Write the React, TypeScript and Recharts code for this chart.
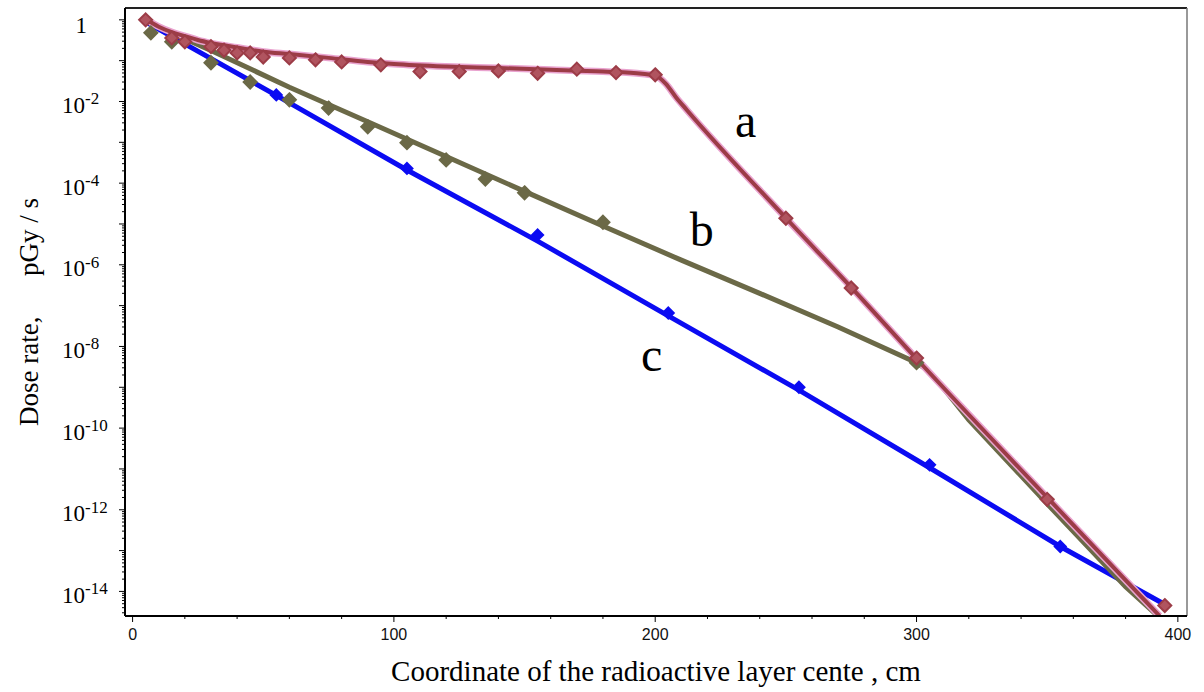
import { ComposedChart, Line, Scatter, XAxis, YAxis, ReferenceLine, ReferenceDot, Label } from 'recharts'

// fitted curves (x in cm, dose rate in pGy/s)
const lineAx = [5, 10, 15, 20, 25, 30, 40, 50, 60, 75, 90, 100, 120, 140, 160, 180, 195, 200, 204, 208, 212, 250, 275, 300, 350, 393]
const lineAy = [1.05, 0.68, 0.5, 0.4, 0.32, 0.27, 0.21, 0.166, 0.145, 0.117, 0.093, 0.083, 0.072, 0.066, 0.06, 0.054, 0.048, 0.043, 0.0275, 0.0126, 6.3e-3, 1.4e-5, 2.8e-7, 5.0e-9, 2.0e-12, 2.5e-15]

const lineBx = [5, 30, 60, 90, 120, 150, 180, 210, 240, 270, 300, 304, 308, 320, 350, 380, 393]
const lineBy = [0.93, 0.178, 0.0224, 3.2e-3, 4.5e-4, 6.3e-5, 8.9e-6, 1.3e-6, 2.0e-7, 3.0e-8, 4.0e-9, 2.7e-9, 1.45e-9, 1.6e-10, 1.4e-12, 1.3e-14, 2.3e-15]

const lineCx = [5, 55, 105, 155, 205, 255, 305, 355, 394]
const lineCy = [0.89, 0.0141, 2.1e-4, 3.8e-6, 5.6e-8, 8.5e-10, 1.07e-11, 1.26e-13, 5.2e-15]

// measured points
const ptsAx = [5, 15, 20, 30, 35, 40, 45, 50, 60, 70, 80, 95, 110, 125, 140, 155, 170, 185, 200, 250, 275, 300, 350, 395]
const ptsAy = [1.0, 0.36, 0.29, 0.22, 0.18, 0.155, 0.155, 0.123, 0.117, 0.105, 0.093, 0.079, 0.054, 0.054, 0.056, 0.049, 0.062, 0.051, 0.045, 1.38e-5, 2.7e-7, 5.2e-9, 1.8e-12, 4.5e-15]

const ptsBx = [7, 15, 30, 45, 60, 75, 90, 105, 120, 135, 150, 180, 300]
const ptsBy = [0.48, 0.29, 0.089, 0.03, 0.011, 6.9e-3, 2.4e-3, 9.8e-4, 3.7e-4, 1.26e-4, 5.8e-5, 1.1e-5, 4.0e-9]

const ptsCx = [55, 105, 155, 205, 255, 305, 355]
const ptsCy = [0.0145, 2.3e-4, 5.4e-6, 6.6e-8, 1.0e-9, 1.26e-11, 1.26e-13]

const curveNames = ['a', 'b', 'c']
const curveLabelX = [234.6, 217.8, 198.6]
const curveLabelY = [3.5e-3, 7.6e-6, 6.5e-9]

const xTicks = [0, 20, 40, 60, 80, 100, 120, 140, 160, 180, 200, 220, 240, 260, 280, 300, 320, 340, 360, 380, 400]
const yLabelExps = [0, -2, -4, -6, -8, -10, -12, -14]

const xDomain = [-2.9, 403.5]
const yDomain = [2.5e-15, 1.95]

const zip = (xs: number[], ys: number[]) => xs.map((x, i) => ({ x, y: ys[i] }))

// every 1..9 x 10^e inside the domain, for the minor log ticks
const yTicks: number[] = []
for (let e = -15; e <= 0; e++) {
  for (let m = 1; m <= 9; m++) {
    const v = m * Math.pow(10, e)
    if (v >= yDomain[0] && v <= yDomain[1]) yTicks.push(v)
  }
}

const RED = '#9C3C47'
const OLIVE = '#6B6947'
const BLUE = '#0B0BF2'

const diamond = (fill: string, stroke: string, r: number) => (props: any) => {
  const { cx, cy } = props
  if (cx == null || cy == null) return <g />
  return (
    <path
      d={`M${cx},${cy - r} L${cx + r},${cy} L${cx},${cy + r} L${cx - r},${cy} Z`}
      fill={fill}
      stroke={stroke}
      strokeWidth={2}
    />
  )
}

function XTick(props: any) {
  const { x, y, payload } = props
  const v = payload.value as number
  const major = v % 100 === 0
  return (
    <g>
      <line x1={x} x2={x} y1={y} y2={y + (major ? 6 : 3)} stroke="#000" />
      {major && (
        <text x={x} y={y + 24} textAnchor="middle" fontFamily="Liberation Sans" fontSize={16} fill="#111">
          {v}
        </text>
      )}
    </g>
  )
}

function YTick(props: any) {
  const { x, y, payload } = props
  const v = payload.value as number
  const e = Math.round(Math.log10(v))
  const decade = Math.abs(v - Math.pow(10, e)) < Math.pow(10, e) * 1e-6
  const len = decade ? 6 : 3
  let label = null
  if (decade && yLabelExps.includes(e)) {
    label =
      e === 0 ? (
        <text x={x - 38} y={y + 13} textAnchor="end" fontFamily="Liberation Serif" fontSize={23} fill="#000">
          1
        </text>
      ) : (
        <text x={x - 63} y={y + 11.5} fontFamily="Liberation Serif" fontSize={23} fill="#000">
          10
          <tspan fontSize={17} dy={-8.5}>
            {e}
          </tspan>
        </text>
      )
  }
  return (
    <g>
      <line x1={x} x2={x - len} y1={y} y2={y} stroke="#000" />
      {label}
    </g>
  )
}

export default function App() {
  return (
    <div style={{ position: 'absolute', left: 0, top: 0, width: 1204, height: 692, background: '#fff' }}>
      <ComposedChart width={1204} height={692} margin={{ top: 8, right: 17, left: 65, bottom: 36 }}>
        <XAxis
          dataKey="x"
          type="number"
          domain={xDomain}
          allowDataOverflow
          ticks={xTicks}
          interval={0}
          height={40}
          tickSize={0}
          tickMargin={0}
          tickLine={false}
          tick={<XTick />}
          axisLine={{ stroke: '#000', strokeWidth: 2 }}
        >
          <Label
            value="Coordinate of the radioactive layer cente , cm"
            position="bottom"
            offset={4}
            fontFamily="Liberation Serif"
            fontSize={29}
            fill="#000"
          />
        </XAxis>
        <YAxis
          dataKey="y"
          type="number"
          scale="log"
          domain={yDomain}
          allowDataOverflow
          ticks={yTicks}
          interval={0}
          width={60}
          tickSize={0}
          tickMargin={0}
          tickLine={false}
          tick={<YTick />}
          axisLine={{ stroke: '#000', strokeWidth: 2 }}
        >
          <Label
            value={'Dose rate,\u00A0\u00A0\u00A0\u00A0\u00A0 pGy / s'}
            position="left"
            angle={-90}
            offset={37}
            fontFamily="Liberation Serif"
            fontSize={27}
            fill="#000"
            style={{ textAnchor: 'middle' }}
          />
        </YAxis>

        <ReferenceLine y={yDomain[1]} stroke="#222" strokeWidth={2} />
        <ReferenceLine x={xDomain[1]} stroke="#777" strokeWidth={1.5} />

        <Line data={zip(lineCx, lineCy)} dataKey="y" type="linear" stroke={BLUE} strokeWidth={5} dot={false} activeDot={false} isAnimationActive={false} />
        <Line data={zip(lineBx, lineBy)} dataKey="y" type="linear" stroke={OLIVE} strokeWidth={5} dot={false} activeDot={false} isAnimationActive={false} />
        <Line data={zip(lineAx, lineAy)} dataKey="y" type="monotoneX" stroke="#E9A3CF" strokeWidth={7} dot={false} activeDot={false} isAnimationActive={false} />
        <Line data={zip(lineAx, lineAy)} dataKey="y" type="monotoneX" stroke={RED} strokeWidth={4} dot={false} activeDot={false} isAnimationActive={false} />

        <Scatter data={zip(ptsCx, ptsCy)} dataKey="y" shape={diamond(BLUE, BLUE, 5.5)} isAnimationActive={false} />
        <Scatter data={zip(ptsBx, ptsBy)} dataKey="y" shape={diamond(OLIVE, OLIVE, 6.5)} isAnimationActive={false} />
        <Scatter data={zip(ptsAx, ptsAy)} dataKey="y" shape={diamond('#B0545F', RED, 6.5)} isAnimationActive={false} />

        {curveNames.map((n, i) => (
          <ReferenceDot
            key={n}
            x={curveLabelX[i]}
            y={curveLabelY[i]}
            r={0}
            fill="none"
            stroke="none"
            label={{ value: n, position: 'center', fontFamily: 'Liberation Serif', fontSize: 48, fill: '#000' }}
          />
        ))}
      </ComposedChart>
    </div>
  )
}
